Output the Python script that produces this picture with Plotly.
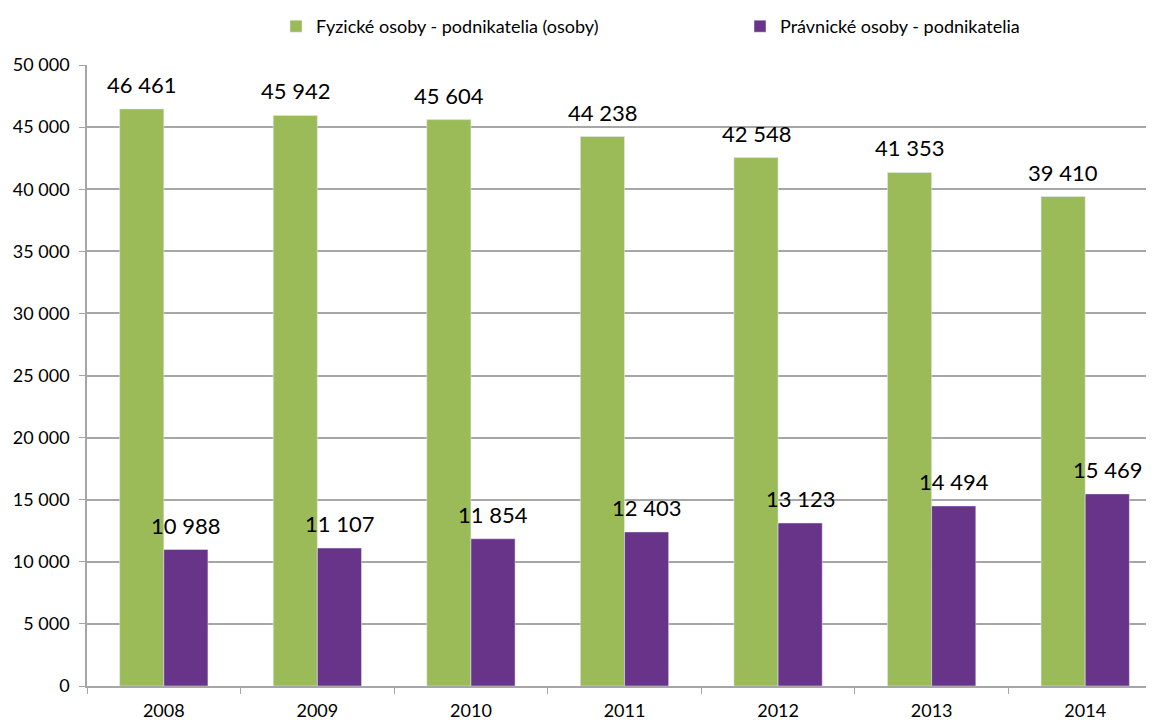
import plotly.graph_objects as go

years = ["2008", "2009", "2010", "2011", "2012", "2013", "2014"]
fyzicke = [46461, 45942, 45604, 44238, 42548, 41353, 39410]
pravnicke = [10988, 11107, 11854, 12403, 13123, 14494, 15469]

GREEN = "#9BBB59"
PURPLE = "#673489"

fig = go.Figure()
fig.add_trace(go.Bar(x=years, y=fyzicke, name="Fyzické osoby - podnikatelia (osoby)",
                     marker_color=GREEN, legend="legend"))
fig.add_trace(go.Bar(x=years, y=pravnicke, name="Právnické osoby - podnikatelia",
                     marker_color=PURPLE, legend="legend2"))

# value labels above the bars (x given as category index, numeric-looking
# year strings would otherwise be read as positions)
for vals, dx in ((fyzicke, -22), (pravnicke, 22)):
    for i, v in enumerate(vals):
        fig.add_annotation(x=i, y=v, text=f"{v:,}".replace(",", " "), showarrow=False,
                           xshift=dx, yshift=9, yanchor="bottom",
                           font=dict(size=22, color="#000000"))

leg = dict(orientation="h", xref="container", yref="container", xanchor="left",
           y=1.0, yanchor="top", font=dict(size=18), bgcolor="rgba(0,0,0,0)")

fig.update_layout(
    width=1154, height=720,
    barmode="group", bargap=0.425, bargroupgap=0,
    separators=", ",
    font=dict(family="Lato, Liberation Sans, sans-serif", size=16, color="#000000"),
    plot_bgcolor="white", paper_bgcolor="white",
    margin=dict(l=79, r=0, t=57, b=42),
    legend=dict(leg, x=268 / 1154),
    legend2=dict(leg, x=732 / 1154),
    showlegend=True,
)
fig.update_yaxes(range=[0, 50000], dtick=5000, tickformat=",d", automargin=False,
                 showgrid=True, gridcolor="#A6A6A6", gridwidth=1.5,
                 showline=True, linecolor="#A6A6A6", linewidth=1.5,
                 ticks="outside", ticklen=6, tickcolor="#A6A6A6",
                 ticklabelstandoff=6, zeroline=False, tickfont=dict(size=18))
fig.update_xaxes(type="category", range=[-0.5, len(years) - 0.5],
                 showline=True, linecolor="#A6A6A6", linewidth=1.5,
                 automargin=False, ticks="outside", ticklen=6, tickcolor="#A6A6A6",
                 tickson="boundaries", ticklabelstandoff=8, tickfont=dict(size=18))

fig.write_html("out.html")
